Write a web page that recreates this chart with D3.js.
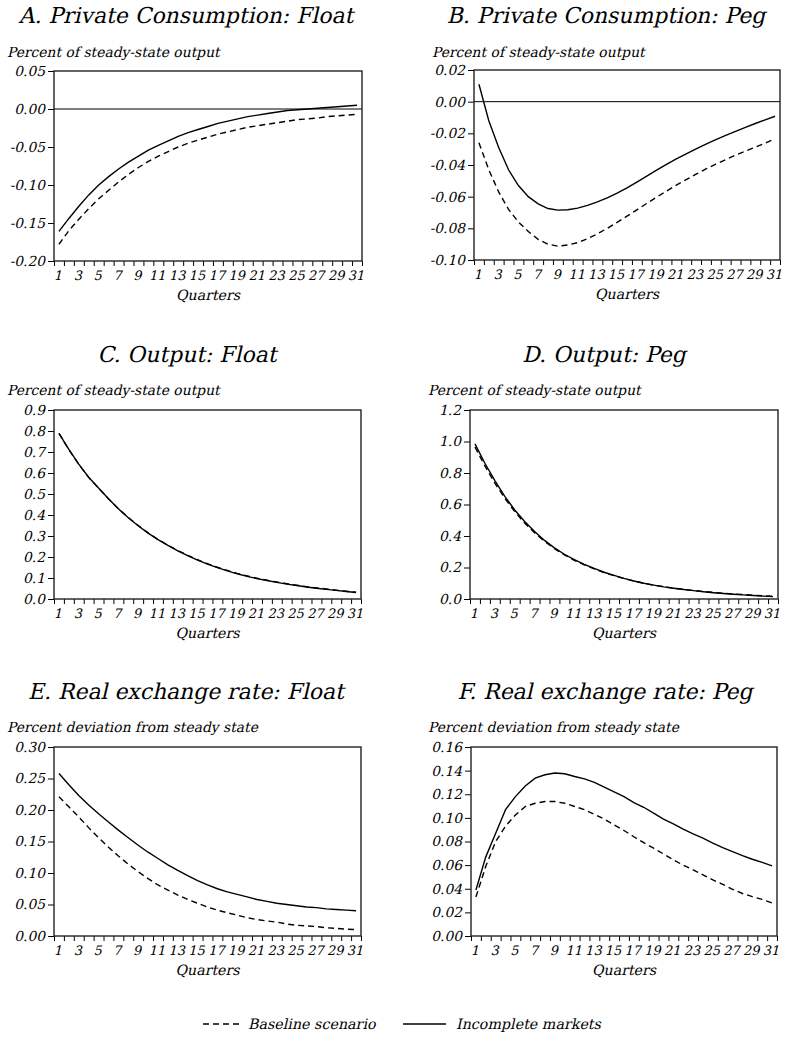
<!DOCTYPE html>
<html>
<head>
<meta charset="utf-8">
<script src="https://cdn.jsdelivr.net/npm/d3@7"></script>
<style>
  html, body { margin: 0; padding: 0; background: #fff; }
  svg text { font-family: "DejaVu Serif", serif; font-style: normal; fill: #000; }
</style>
</head>
<body>
<svg id="chart" width="785" height="1043"></svg>
<script>
// ---------------- DATA ----------------
const quarters = [1,2,3,4,5,6,7,8,9,10,11,12,13,14,15,16,17,18,19,20,21,22,23,24,25,26,27,28,29,30,31];
const xTickLabels = ["1","3","5","7","9","11","13","15","17","19","21","23","25","27","29","31"];
const seriesNames = ["Baseline scenario", "Incomplete markets"];
const xTitle = "Quarters";

const titles = [
  "A. Private Consumption: Float",
  "B. Private Consumption: Peg",
  "C. Output: Float",
  "D. Output: Peg",
  "E. Real exchange rate: Float",
  "F. Real exchange rate: Peg"
];
const yTitles = [
  "Percent of steady-state output",
  "Percent of steady-state output",
  "Percent of steady-state output",
  "Percent of steady-state output",
  "Percent deviation from steady state",
  "Percent deviation from steady state"
];

const yTicksA = [0.05, 0.00, -0.05, -0.10, -0.15, -0.20];
const yTickLabelsA = ["0.05", "0.00", "-0.05", "-0.10", "-0.15", "-0.20"];
const yTicksB = [0.02, 0.00, -0.02, -0.04, -0.06, -0.08, -0.10];
const yTickLabelsB = ["0.02", "0.00", "-0.02", "-0.04", "-0.06", "-0.08", "-0.10"];
const yTicksC = [0.9, 0.8, 0.7, 0.6, 0.5, 0.4, 0.3, 0.2, 0.1, 0.0];
const yTickLabelsC = ["0.9", "0.8", "0.7", "0.6", "0.5", "0.4", "0.3", "0.2", "0.1", "0.0"];
const yTicksD = [1.2, 1.0, 0.8, 0.6, 0.4, 0.2, 0.0];
const yTickLabelsD = ["1.2", "1.0", "0.8", "0.6", "0.4", "0.2", "0.0"];
const yTicksE = [0.30, 0.25, 0.20, 0.15, 0.10, 0.05, 0.00];
const yTickLabelsE = ["0.30", "0.25", "0.20", "0.15", "0.10", "0.05", "0.00"];
const yTicksF = [0.16, 0.14, 0.12, 0.10, 0.08, 0.06, 0.04, 0.02, 0.00];
const yTickLabelsF = ["0.16", "0.14", "0.12", "0.10", "0.08", "0.06", "0.04", "0.02", "0.00"];

// A. Private consumption, float
const baseA = [-0.178,-0.160,-0.145,-0.131,-0.118,-0.107,-0.096,-0.086,-0.077,-0.069,-0.062,-0.056,-0.050,-0.045,-0.041,-0.037,-0.033,-0.030,-0.027,-0.024,-0.022,-0.020,-0.018,-0.016,-0.014,-0.013,-0.012,-0.010,-0.009,-0.008,-0.007];
const incA  = [-0.161,-0.144,-0.128,-0.113,-0.100,-0.089,-0.079,-0.070,-0.062,-0.054,-0.048,-0.042,-0.036,-0.031,-0.027,-0.023,-0.019,-0.016,-0.013,-0.010,-0.008,-0.006,-0.004,-0.002,-0.001,0.000,0.001,0.002,0.003,0.004,0.005];
// B. Private consumption, peg
const baseB = [-0.026,-0.043,-0.057,-0.068,-0.076,-0.082,-0.087,-0.0900,-0.0913,-0.0905,-0.0890,-0.0865,-0.0835,-0.0800,-0.0762,-0.0723,-0.0683,-0.0643,-0.0603,-0.0565,-0.0527,-0.0492,-0.0458,-0.0425,-0.0395,-0.0366,-0.0338,-0.0312,-0.0288,-0.0262,-0.0235];
const incB  = [0.011,-0.012,-0.029,-0.043,-0.053,-0.060,-0.0645,-0.0675,-0.0685,-0.0683,-0.0672,-0.0655,-0.0633,-0.0608,-0.0578,-0.0545,-0.0508,-0.0470,-0.0432,-0.0396,-0.0362,-0.0329,-0.0298,-0.0268,-0.0240,-0.0213,-0.0187,-0.0162,-0.0138,-0.0115,-0.0092];
// C. Output, float
const baseC = [0.789,0.711,0.641,0.579,0.528,0.477,0.430,0.388,0.350,0.315,0.284,0.256,0.231,0.208,0.187,0.168,0.151,0.136,0.122,0.110,0.099,0.090,0.081,0.073,0.066,0.059,0.053,0.048,0.042,0.037,0.032];
const incC  = [0.789,0.712,0.642,0.580,0.529,0.477,0.430,0.387,0.349,0.314,0.283,0.255,0.229,0.206,0.185,0.166,0.149,0.134,0.120,0.108,0.097,0.088,0.079,0.071,0.064,0.057,0.051,0.046,0.041,0.036,0.031];
// D. Output, peg
const baseD = [0.965,0.845,0.735,0.640,0.555,0.482,0.420,0.366,0.320,0.280,0.246,0.217,0.191,0.168,0.148,0.130,0.114,0.100,0.088,0.078,0.069,0.061,0.054,0.048,0.042,0.037,0.032,0.028,0.024,0.020,0.017];
const incD  = [0.985,0.862,0.752,0.652,0.565,0.492,0.428,0.372,0.325,0.284,0.250,0.220,0.194,0.170,0.150,0.131,0.114,0.100,0.088,0.077,0.068,0.060,0.053,0.046,0.040,0.035,0.030,0.026,0.022,0.018,0.015];
// E. Real exchange rate, float
const baseE = [0.221,0.205,0.189,0.172,0.156,0.141,0.127,0.114,0.102,0.091,0.081,0.073,0.065,0.058,0.052,0.046,0.041,0.037,0.033,0.029,0.026,0.024,0.022,0.019,0.017,0.016,0.015,0.013,0.012,0.011,0.010];
const incE  = [0.258,0.240,0.223,0.208,0.194,0.181,0.168,0.156,0.144,0.133,0.123,0.113,0.104,0.096,0.088,0.081,0.075,0.070,0.066,0.062,0.058,0.055,0.052,0.050,0.048,0.046,0.045,0.043,0.042,0.041,0.040];
// F. Real exchange rate, peg
const baseF = [0.033,0.059,0.080,0.093,0.1025,0.1096,0.1124,0.1138,0.1138,0.1124,0.1096,0.1070,0.1030,0.0990,0.0940,0.0893,0.0840,0.0790,0.0743,0.0695,0.0644,0.0600,0.0560,0.0517,0.0475,0.0438,0.0395,0.0360,0.0333,0.0310,0.0280];
const incF  = [0.039,0.067,0.087,0.107,0.118,0.127,0.1336,0.1365,0.1380,0.1373,0.1350,0.1330,0.1300,0.1260,0.1220,0.1180,0.1130,0.1090,0.1040,0.0990,0.0950,0.0904,0.0864,0.0828,0.0786,0.0749,0.0715,0.0680,0.0650,0.0624,0.0593];

// ---------------- LAYOUT ----------------
const panels = [
  { title: titles[0], yTitle: yTitles[0], ticks: yTicksA, labels: yTickLabelsA, base: baseA, inc: incA, zero: true,
    left: 54, right: 362, top: 71, bottom: 261, titleX: 186, titleY: 23, yTitleX: 7, yTitleY: 57 },
  { title: titles[1], yTitle: yTitles[1], ticks: yTicksB, labels: yTickLabelsB, base: baseB, inc: incB, zero: true,
    left: 474, right: 780, top: 70, bottom: 260, titleX: 606, titleY: 23, yTitleX: 432, yTitleY: 57 },
  { title: titles[2], yTitle: yTitles[2], ticks: yTicksC, labels: yTickLabelsC, base: baseC, inc: incC, zero: false,
    left: 54, right: 361, top: 410, bottom: 599, titleX: 187, titleY: 362, yTitleX: 7, yTitleY: 395 },
  { title: titles[3], yTitle: yTitles[3], ticks: yTicksD, labels: yTickLabelsD, base: baseD, inc: incD, zero: false,
    left: 470, right: 778, top: 410, bottom: 599, titleX: 604, titleY: 362, yTitleX: 428, yTitleY: 395 },
  { title: titles[4], yTitle: yTitles[4], ticks: yTicksE, labels: yTickLabelsE, base: baseE, inc: incE, zero: false,
    left: 54, right: 361, top: 747, bottom: 936, titleX: 186, titleY: 699, yTitleX: 7, yTitleY: 732 },
  { title: titles[5], yTitle: yTitles[5], ticks: yTicksF, labels: yTickLabelsF, base: baseF, inc: incF, zero: false,
    left: 471, right: 777, top: 747, bottom: 936, titleX: 605, titleY: 699, yTitleX: 428, yTitleY: 732 }
];

const svg = d3.select("#chart");
const DASH = "6,4";
const SKEW = -13;

// serif text slanted like an italic face
function slantText(parent, x, y, str, size, anchor) {
  return parent.append("text")
    .attr("transform", `translate(${x},${y}) skewX(${SKEW})`)
    .attr("text-anchor", anchor || "start")
    .style("font-size", size + "px")
    .text(str);
}

function drawPanel(p) {
  const g = svg.append("g");
  const x = d3.scaleLinear().domain([quarters[0] - 0.5, quarters[quarters.length - 1] + 0.5]).range([p.left, p.right]);
  const y = d3.scaleLinear().domain([p.ticks[p.ticks.length - 1], p.ticks[0]]).range([p.bottom, p.top]);

  slantText(g, p.titleX, p.titleY, p.title, 21.9, "middle");
  slantText(g, p.yTitleX, p.yTitleY, p.yTitle, 13.9, "start");

  // y axis
  const yAxis = d3.axisLeft(y).tickValues(p.ticks).tickFormat((d, i) => p.labels[i])
    .tickSizeInner(6).tickSizeOuter(0).tickPadding(2);
  const ya = g.append("g").attr("transform", `translate(${p.left},0)`).call(yAxis);
  ya.attr("font-family", null).attr("font-size", null);
  ya.select(".domain").remove();
  ya.selectAll("line").attr("stroke", "#000");
  ya.selectAll("text").style("font-size", "13.8px").attr("fill", "#000")
    .attr("transform", `skewX(${SKEW})`);

  // x axis ticks at quarter boundaries
  const boundaries = quarters.map(q => q - 0.5).concat([quarters[quarters.length - 1] + 0.5]);
  const xAxis = d3.axisBottom(x).tickValues(boundaries).tickFormat("").tickSizeInner(5).tickSizeOuter(0);
  const xa = g.append("g").attr("transform", `translate(0,${p.bottom})`).call(xAxis);
  xa.select(".domain").remove();
  xa.selectAll("line").attr("stroke", "#000");

  // x labels (shifted 1px left to compensate for the slant)
  xTickLabels.forEach(d => slantText(g, x(+d) - 1, p.bottom + 19, d, 13, "middle"));
  slantText(g, (p.left + p.right) / 2, p.bottom + 39, xTitle, 14.2, "middle");

  // zero line
  if (p.zero) {
    g.append("line").attr("x1", p.left).attr("x2", p.right).attr("y1", y(0)).attr("y2", y(0))
      .attr("stroke", "#000").attr("stroke-width", 1);
  }

  const line = d3.line().x((d, i) => x(quarters[i])).y(d => y(d));
  g.append("path").datum(p.base).attr("d", line).attr("fill", "none")
    .attr("stroke", "#000").attr("stroke-width", 1.4).attr("stroke-dasharray", DASH);
  g.append("path").datum(p.inc).attr("d", line).attr("fill", "none")
    .attr("stroke", "#000").attr("stroke-width", 1.4);

  // frame
  g.append("rect").attr("x", p.left).attr("y", p.top)
    .attr("width", p.right - p.left).attr("height", p.bottom - p.top)
    .attr("fill", "none").attr("stroke", "#222").attr("stroke-width", 1.4);
}

panels.forEach(drawPanel);

// legend
const lg = svg.append("g");
const legendItems = [
  { name: seriesNames[0], dash: DASH, x1: 203, x2: 243, tx: 248 },
  { name: seriesNames[1], dash: null, x1: 403, x2: 446, tx: 456 }
];
legendItems.forEach(it => {
  lg.append("line").attr("x1", it.x1).attr("x2", it.x2).attr("y1", 1024).attr("y2", 1024)
    .attr("stroke", "#000").attr("stroke-width", 1.3).attr("stroke-dasharray", it.dash);
  slantText(lg, it.tx, 1029, it.name, 14.3, "start");
});
</script>
</body>
</html>
